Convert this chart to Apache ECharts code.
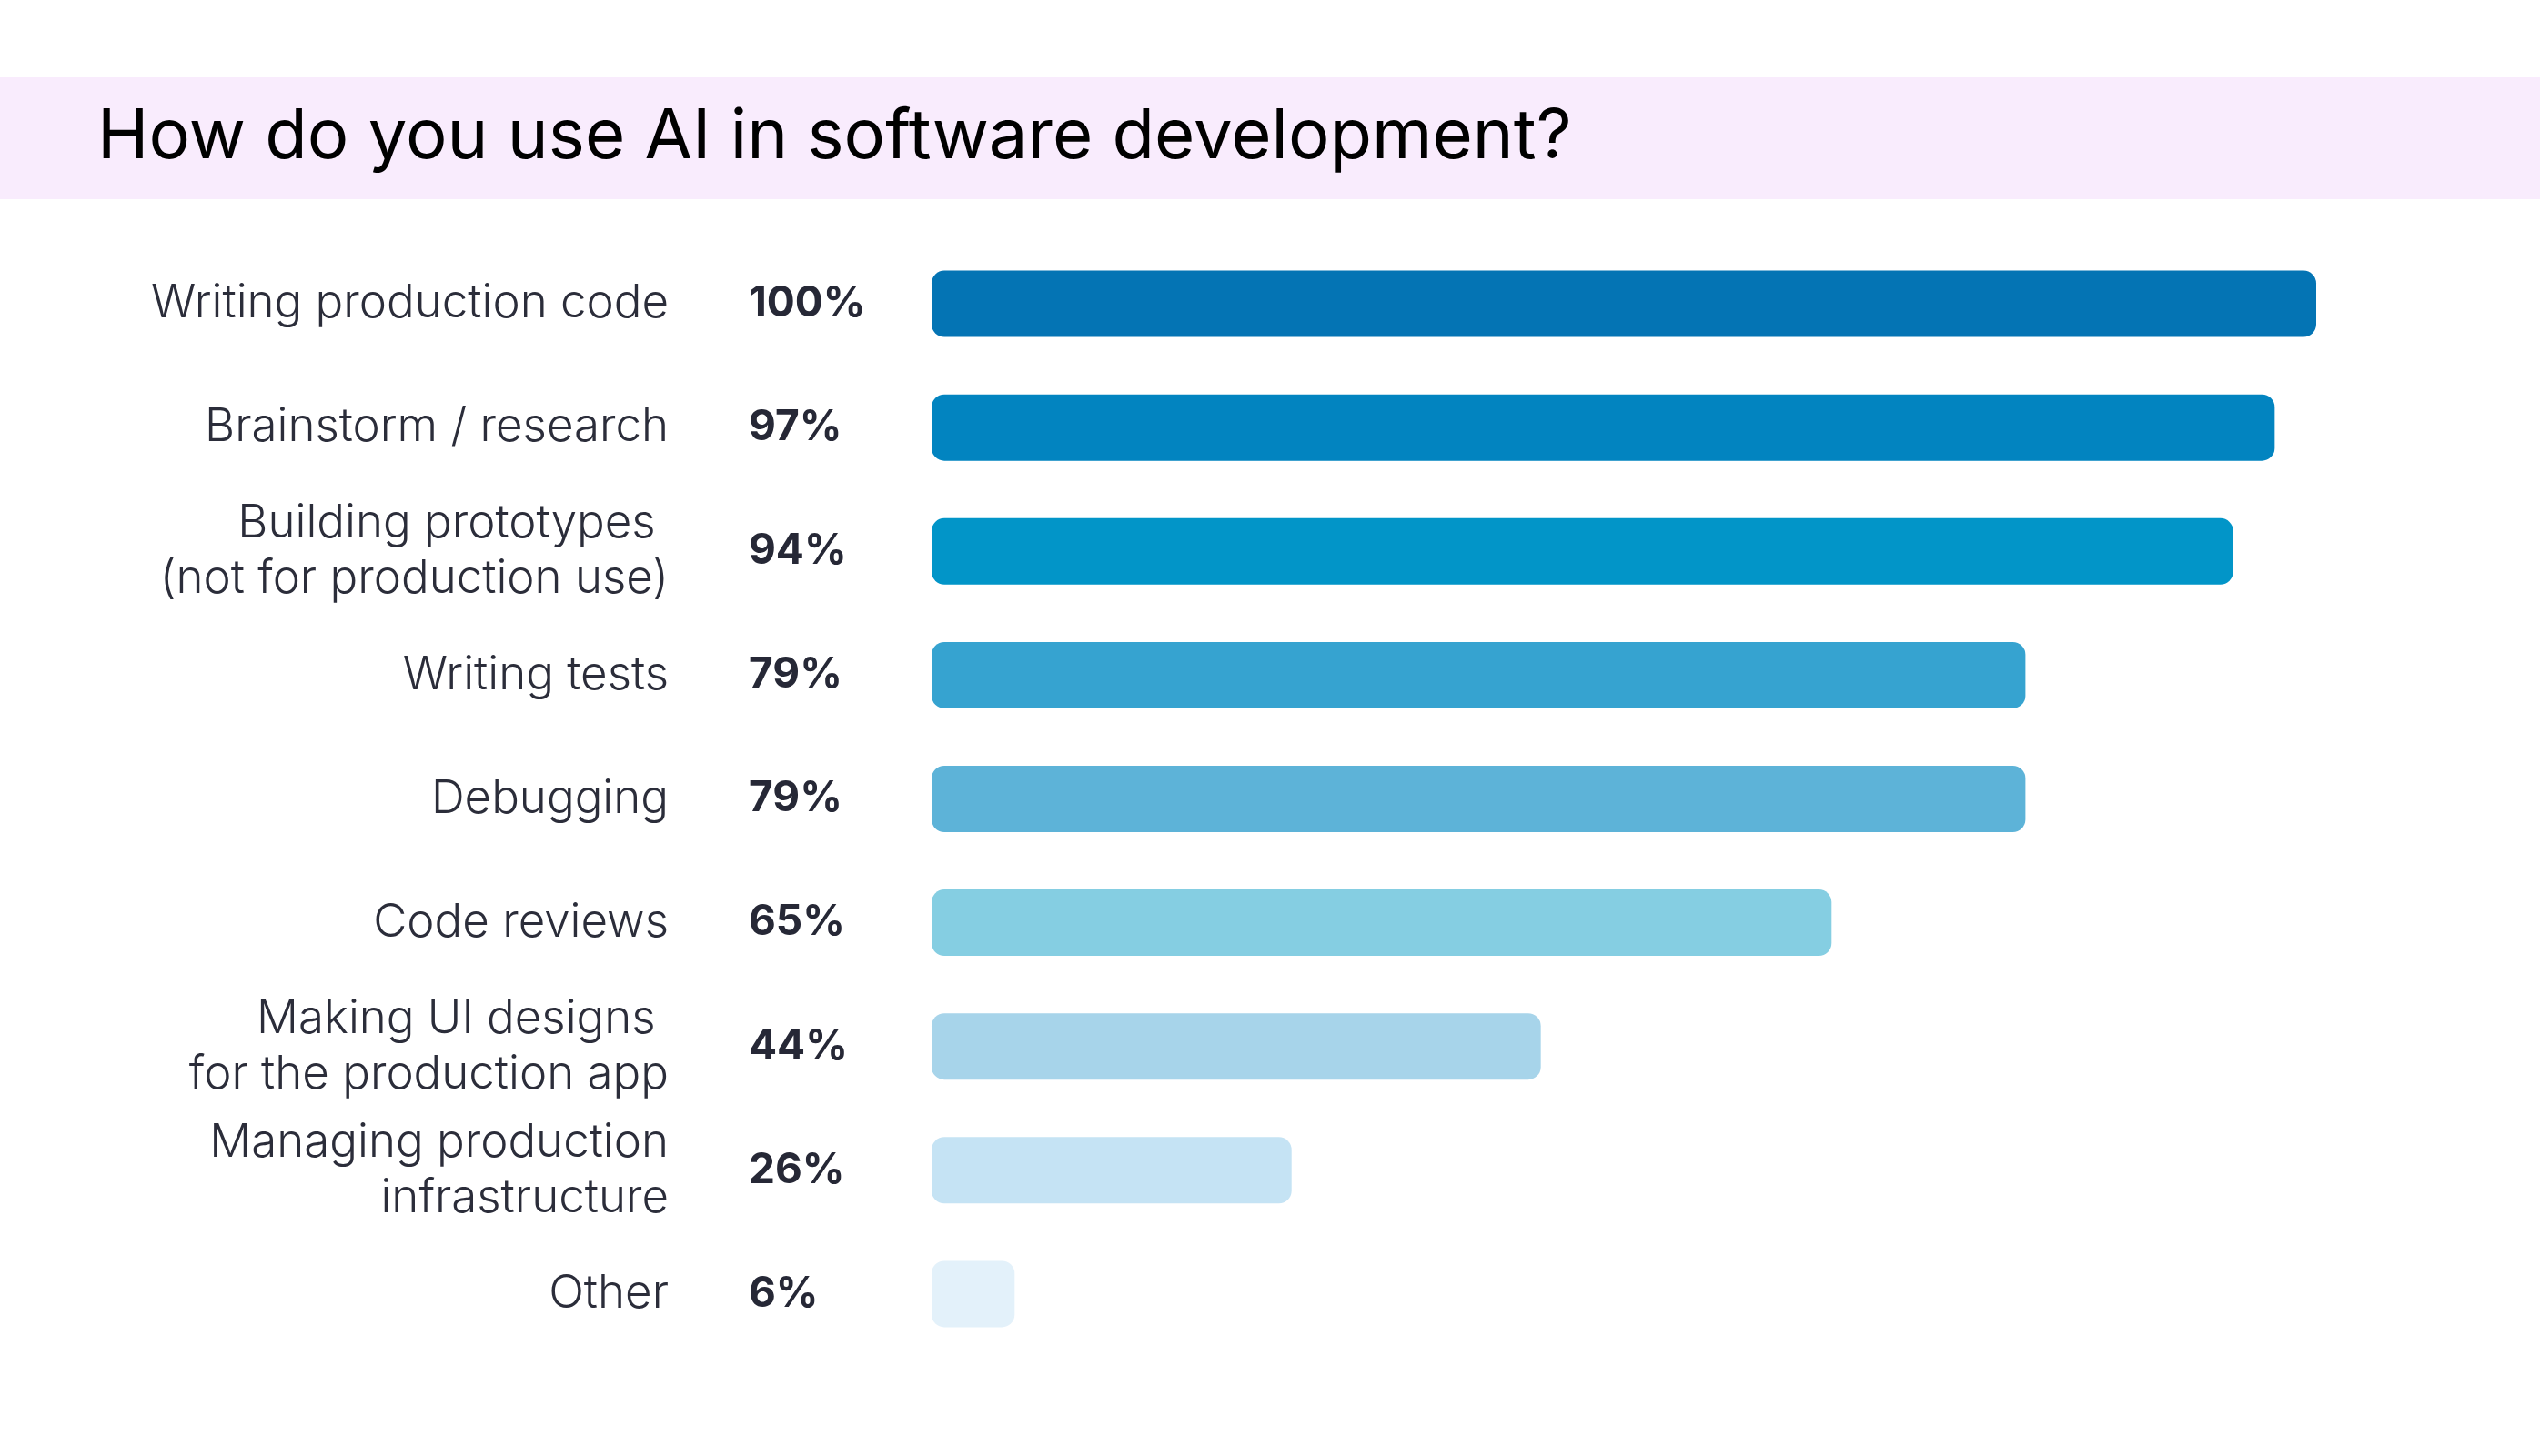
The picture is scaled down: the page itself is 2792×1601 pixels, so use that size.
<!DOCTYPE html>
<html>
<head>
<meta charset="utf-8">
<title>How do you use AI in software development?</title>
<script src="https://cdn.jsdelivr.net/npm/echarts@6/dist/echarts.min.js"></script>
<style>
  html, body { margin: 0; padding: 0; background: #ffffff; }
  #main { width: 2792px; height: 1601px; }
</style>
</head>
<body>
<div id="main"></div>
<script>
// categories, top to bottom
var uses = [
  'Writing production code',
  'Brainstorm / research',
  'Building prototypes \n(not for production use)',
  'Writing tests',
  'Debugging',
  'Code reviews',
  'Making UI designs \nfor the production app',
  'Managing production\ninfrastructure',
  'Other'
];
// share of respondents, %
var shares = [100, 97, 94, 79, 79, 65, 44, 26, 6];
var barColors = ['#0474B4', '#0284C0', '#0295C8', '#36A3D0', '#5DB3D8',
                 '#85CEE2', '#A7D4EA', '#C5E3F4', '#E3F1FA'];

var chart = echarts.init(document.getElementById('main'));
var font = 'Inter, "Noto Sans", sans-serif';

var option = {
  backgroundColor: '#ffffff',
  animation: false,
  graphic: [
    {
      type: 'rect',
      shape: { x: 0, y: 85, width: 2792, height: 134 },
      style: { fill: '#F9ECFD' },
      z: -1
    },
    {
      type: 'text',
      x: 107,
      y: 151,
      style: {
        text: 'How do you use AI in software development?',
        fontFamily: font,
        fontSize: 76,
        fontWeight: 400,
        fill: '#000000',
        verticalAlign: 'middle'
      }
    }
  ],
  grid: {
    left: 1024,
    right: 246,
    top: 266,
    bottom: 110
  },
  xAxis: {
    type: 'value',
    min: 0,
    max: 100,
    show: false
  },
  yAxis: {
    type: 'category',
    inverse: true,
    data: uses,
    axisLine: { show: false },
    axisTick: { show: false },
    splitLine: { show: false },
    axisLabel: {
      margin: 289,
      align: 'right',
      verticalAlign: 'middle',
      fontFamily: font,
      fontSize: 51,
      fontWeight: 300,
      lineHeight: 61,
      color: '#2B2D3A',
      backgroundColor: 'rgba(255,255,255,0)',
      padding: [0, 0, 12, 0]
    }
  },
  series: [{
    type: 'bar',
    barWidth: 73,
    data: shares.map(function (v, i) {
      return { value: v, itemStyle: { color: barColors[i] } };
    }),
    itemStyle: { borderRadius: 14 },
    label: {
      show: true,
      position: [-201, '50%'],
      align: 'left',
      verticalAlign: 'middle',
      formatter: '{c}%',
      fontFamily: font,
      fontSize: 46,
      fontWeight: 700,
      color: '#262836'
    }
  }]
};

chart.setOption(option);
</script>
</body>
</html>
